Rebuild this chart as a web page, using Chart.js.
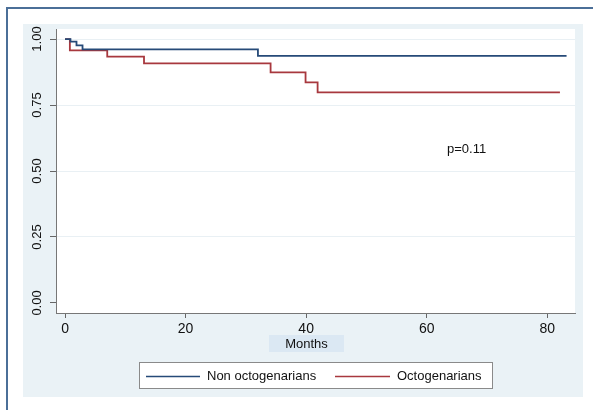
<!DOCTYPE html>
<html>
<head>
<meta charset="utf-8">
<title>Survival by age group</title>
<script src="https://cdn.jsdelivr.net/npm/chart.js@4/dist/chart.umd.min.js"></script>
<style>
  html, body { margin: 0; padding: 0; background: #fff; }
  #wrap { width: 593px; height: 410px; position: relative; }
</style>
</head>
<body>
<div id="wrap"><canvas id="kmChart" width="593" height="410"></canvas></div>
<script>
// ======== Data ========
const seriesLabels = ["Non octogenarians", "Octogenarians"];
const seriesColors = ["#264a78", "#a8383e"];

// step times (months) and survival after each step
const nonOctoMonths = [0, 0.9, 1.9, 2.9, 32.0, 83.2];
const nonOctoSurv = [1.0, 0.99, 0.976, 0.961, 0.936, 0.936];

const octoMonths = [0, 0.8, 7.0, 13.1, 34.1, 39.9, 41.9, 82.1];
const octoSurv = [1.0, 0.957, 0.933, 0.908, 0.874, 0.836, 0.798, 0.798];

const xTicks = [0, 20, 40, 60, 80];
const yTicks = [0, 0.25, 0.5, 0.75, 1.0];

const xTitle = "Months";
const pValueText = "p=0.11";

const FONT = "'Liberation Sans', Arial, sans-serif";

function toPoints(xs, ys) {
  return xs.map((x, i) => ({ x, y: ys[i] }));
}

// ======== Background / frame / legend drawing ========
const decorPlugin = {
  id: "decor",
  beforeDraw(chart) {
    const ctx = chart.ctx;
    const a = chart.chartArea;
    ctx.save();
    ctx.fillStyle = "#ffffff";
    ctx.fillRect(0, 0, chart.width, chart.height);

    // outer frame (top + left visible)
    ctx.strokeStyle = "#4b6f98";
    ctx.lineWidth = 2;
    ctx.beginPath();
    ctx.moveTo(7, chart.height);
    ctx.lineTo(7, 8);
    ctx.lineTo(chart.width, 8);
    ctx.stroke();

    // light panel
    ctx.fillStyle = "#eaf2f6";
    ctx.fillRect(23, 24, 560, 373);

    // plot region
    ctx.fillStyle = "#ffffff";
    ctx.fillRect(a.left, a.top, a.right - a.left, a.bottom - a.top);
    ctx.restore();
  },
  afterDraw(chart) {
    const ctx = chart.ctx;
    ctx.save();

    // p value
    ctx.fillStyle = "#111";
    ctx.font = "13px " + FONT;
    ctx.textAlign = "left";
    ctx.textBaseline = "middle";
    ctx.fillText(pValueText, 447, 149);

    // x axis title with highlight
    ctx.fillStyle = "#dbe8f3";
    ctx.fillRect(269, 335, 75, 17);
    ctx.fillStyle = "#111";
    ctx.textAlign = "center";
    ctx.fillText(xTitle, 306.5, 344);

    // legend box
    ctx.fillStyle = "#ffffff";
    ctx.fillRect(139, 362, 353, 26);
    ctx.strokeStyle = "#8a8a8a";
    ctx.lineWidth = 1;
    ctx.strokeRect(139.5, 362.5, 353, 26);

    const legendItems = [
      { x1: 146, x2: 200, tx: 207 },
      { x1: 335, x2: 390, tx: 397 },
    ];
    legendItems.forEach((it, i) => {
      ctx.strokeStyle = seriesColors[i];
      ctx.lineWidth = 1.6;
      ctx.beginPath();
      ctx.moveTo(it.x1, 376.5);
      ctx.lineTo(it.x2, 376.5);
      ctx.stroke();
      ctx.fillStyle = "#111";
      ctx.textAlign = "left";
      ctx.fillText(seriesLabels[i], it.tx, 376);
    });
    ctx.restore();
  },
};

// ======== Chart ========
function initChart() {
  const ctx = document.getElementById("kmChart").getContext("2d");
  return new Chart(ctx, {
    type: "line",
    data: {
      datasets: [
        {
          label: seriesLabels[0],
          data: toPoints(nonOctoMonths, nonOctoSurv),
          borderColor: seriesColors[0],
          borderWidth: 1.8,
          stepped: "before",
          pointRadius: 0,
          fill: false,
        },
        {
          label: seriesLabels[1],
          data: toPoints(octoMonths, octoSurv),
          borderColor: seriesColors[1],
          borderWidth: 1.8,
          stepped: "before",
          pointRadius: 0,
          fill: false,
        },
      ],
    },
    options: {
      responsive: false,
      animation: false,
      layout: { padding: { left: 0, top: 29, right: 18, bottom: 0 } },
      plugins: {
        legend: { display: false },
        tooltip: { enabled: false },
      },
      scales: {
        x: {
          type: "linear",
          min: -1.5,
          max: 84.6,
          afterFit: (s) => { s.height = 97; },
          afterBuildTicks: (s) => { s.ticks = xTicks.map((v) => ({ value: v })); },
          grid: {
            drawOnChartArea: false,
            drawTicks: true,
            tickLength: 5,
            tickColor: "#666",
          },
          border: { display: true, color: "#777", width: 1 },
          ticks: {
            color: "#111",
            font: { family: FONT, size: 14 },
            padding: 3,
            maxRotation: 0,
          },
        },
        y: {
          type: "linear",
          min: -0.038,
          max: 1.038,
          afterFit: (s) => { s.width = 56; },
          afterBuildTicks: (s) => { s.ticks = yTicks.map((v) => ({ value: v })); },
          grid: {
            // no grid line at 0.00
            color: (c) => (c.tick && c.tick.value === 0 ? "rgba(0,0,0,0)" : "#e9f0f4"),
            lineWidth: 1,
            drawTicks: true,
            tickLength: 6,
            tickColor: "#666",
          },
          border: { display: true, color: "#777", width: 1 },
          ticks: {
            color: "#111",
            font: { family: FONT, size: 13 },
            padding: 0,
            minRotation: 90,
            maxRotation: 90,
            crossAlign: "center",
            callback: (v) => Number(v).toFixed(2),
          },
        },
      },
    },
    plugins: [decorPlugin],
  });
}

document.addEventListener("DOMContentLoaded", initChart);
</script>
</body>
</html>
